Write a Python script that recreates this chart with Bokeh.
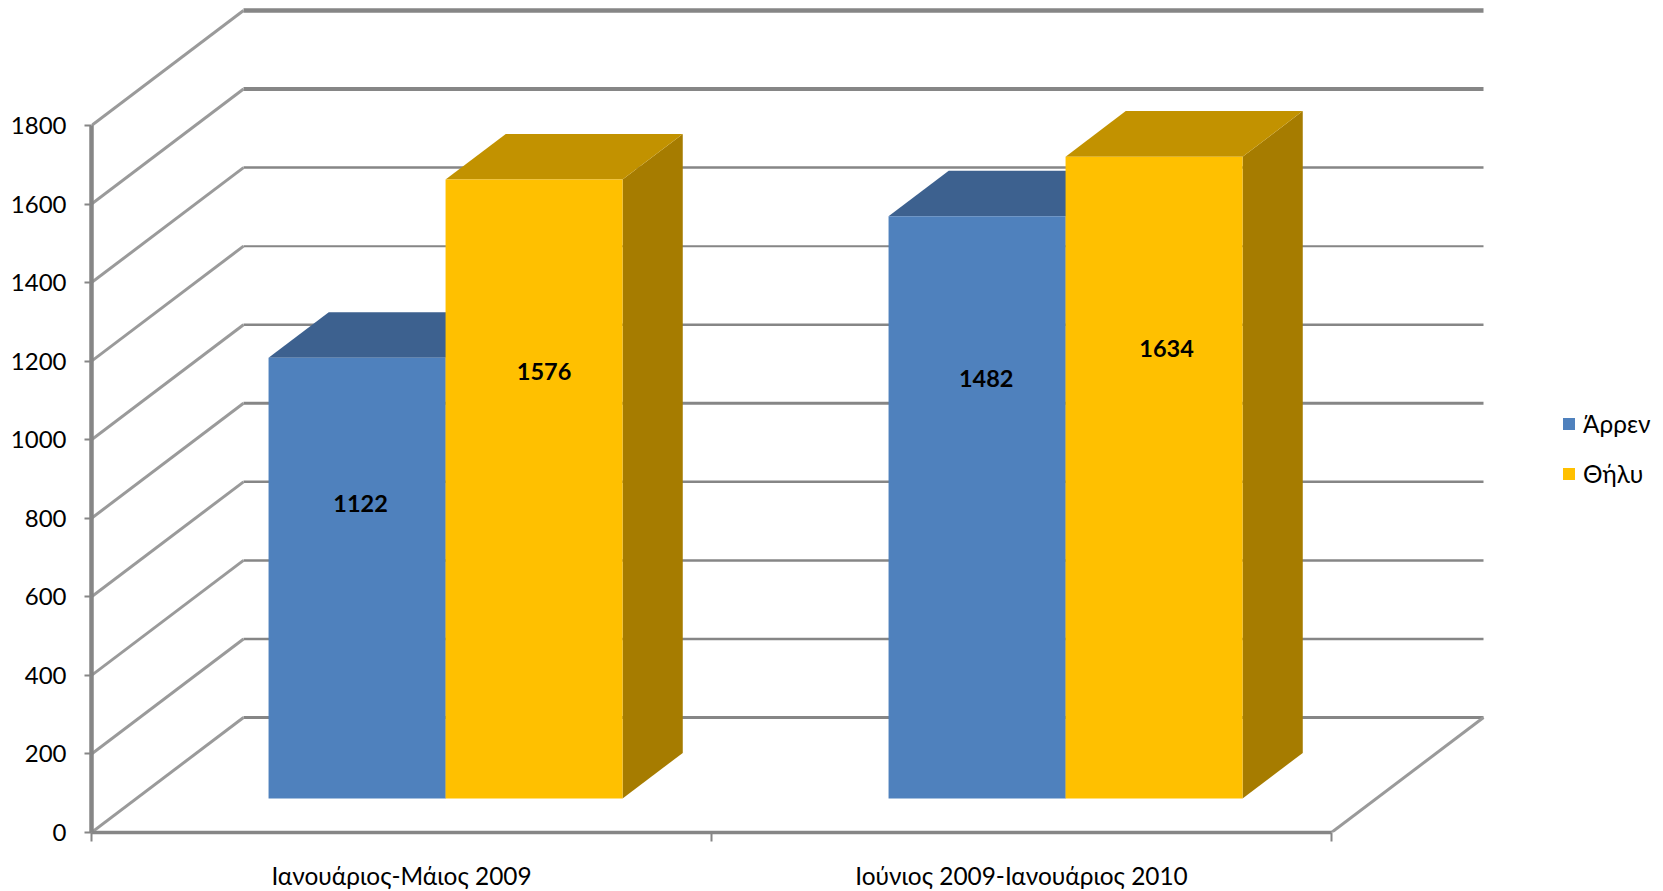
from bokeh.plotting import figure
from bokeh.models import Range1d, FixedTicker, Legend, LegendItem
from bokeh.core.properties import value
from bokeh.embed import file_html
from bokeh.resources import INLINE

# --- data ---
categories = ["Ιανουάριος-Μάιος 2009", "Ιούνιος 2009-Ιανουάριος 2010"]
male = [1122, 1482]
female = [1576, 1634]
series_names = ["Άρρεν", "Θήλυ"]
y_ticks = [0, 200, 400, 600, 800, 1000, 1200, 1400, 1600, 1800]
# where Excel's 3-D renderer left each data label (category units, value units)
label_x = [0.434, 0.730, 1.443, 1.734]
label_v = [837, 1173, 1155, 1232]

FONT = "Lato"
GREY = "#868686"

# --- oblique projection of the 3-D box ---
DEPTH_X = 152 / 620    # category units per unit of depth
DEPTH_V = 115 / 0.3928 # value units per unit of depth
def px(c, d): return c + d * DEPTH_X
def pv(v, d): return v + d * DEPTH_V

FRAME_W, FRAME_H = 1572, 832
p = figure(width=1663, height=891, output_backend="svg", toolbar_location=None,
           frame_width=FRAME_W, frame_height=FRAME_H,
           x_range=Range1d(0, FRAME_W / 620), y_range=Range1d(0, FRAME_H / 0.39278),
           min_border_left=91, min_border_right=0, min_border_top=0, min_border_bottom=59,
           outline_line_color=None, background_fill_color="white", border_fill_color="white")
p.grid.visible = False

# y axis
ya = p.yaxis[0]
ya.bounds = (0, 1800)
ya.ticker = FixedTicker(ticks=y_ticks)
ya.axis_line_color = GREY
ya.axis_line_width = 4.5
ya.major_tick_line_color = GREY
ya.major_tick_line_width = 2
ya.major_tick_out = 7
ya.major_tick_in = 0
ya.minor_tick_line_color = None
ya.major_label_standoff = 18
ya.major_label_text_font = FONT
ya.major_label_text_font_size = "24px"
ya.major_label_text_color = "black"

# x axis: boundaries as minor ticks, names centred between them
xa = p.xaxis[0]
xa.bounds = (0, 2)
xa.ticker = FixedTicker(ticks=[0.5, 1.5], minor_ticks=[0, 1, 2])
xa.major_label_overrides = {0.5: categories[0], 1.5: categories[1]}
xa.axis_line_color = GREY
xa.axis_line_width = 3.5
xa.major_tick_line_color = None
xa.major_tick_out = 0
xa.major_tick_in = 0
xa.minor_tick_line_color = GREY
xa.minor_tick_line_width = 2
xa.minor_tick_out = 9
xa.minor_tick_in = 0
xa.major_label_standoff = 19
xa.major_label_text_font = FONT
xa.major_label_text_font_size = "24.4px"
xa.major_label_text_color = "black"

# back wall gridlines
widths = [3, 2.5, 2.5, 2.5, 3, 2.5, 2, 2.5, 4, 4.5]
p.segment(x0=[px(0, 1)] * len(y_ticks), y0=[pv(v, 1) for v in y_ticks],
          x1=[px(2, 1)] * len(y_ticks), y1=[pv(v, 1) for v in y_ticks],
          line_color=GREY, line_width=widths)

# side wall lines and floor edge
p.segment(x0=[0] * len(y_ticks), y0=y_ticks,
          x1=[px(0, 1)] * len(y_ticks), y1=[pv(v, 1) for v in y_ticks],
          line_color="#9a9a9a", line_width=3)
p.segment(x0=[2], y0=[0], x1=[px(2, 1)], y1=[pv(0, 1)], line_color="#9a9a9a", line_width=3)

# bars
D0, D1 = 0.296, 0.692
LEFTS = [[0.213, 1.213], [0.4985, 1.4985]]
WIDTHS = [0.2855, 0.2855]
fills = [("#4F81BD", "#3D618F", "#2F4D72"), ("#FFC000", "#C29200", "#A67C00")]
renderers = []
for values, lefts, w, (front, top, side) in zip([male, female], LEFTS, WIDTHS, fills):
    fx, fy, tx, ty, sx, sy = [], [], [], [], [], []
    for v, l in zip(values, lefts):
        r = l + w
        fx.append([px(l, D0), px(r, D0), px(r, D0), px(l, D0)])
        fy.append([pv(0, D0), pv(0, D0), pv(v, D0), pv(v, D0)])
        tx.append([px(l, D0), px(r, D0), px(r, D1), px(l, D1)])
        ty.append([pv(v, D0), pv(v, D0), pv(v, D1), pv(v, D1)])
        sx.append([px(r, D0), px(r, D1), px(r, D1), px(r, D0)])
        sy.append([pv(0, D0), pv(0, D1), pv(v, D1), pv(v, D0)])
    p.patches(sx, sy, fill_color=side, line_color=None)
    p.patches(tx, ty, fill_color=top, line_color=None)
    renderers.append(p.patches(fx, fy, fill_color=front, line_color=None))

# data labels
p.text(x=label_x, y=label_v,
       text=[str(v) for v in [male[0], female[0], male[1], female[1]]],
       text_font=value(FONT), text_font_style="bold", text_font_size="23.5px",
       text_color="black", text_align="center", text_baseline="middle")

legend = Legend(items=[LegendItem(label=value(n), renderers=[r]) for n, r in zip(series_names, renderers)],
                location=(1470, 344), orientation="vertical",
                background_fill_alpha=0, border_line_color=None,
                padding=0, margin=0, spacing=21, glyph_width=15, glyph_height=15,
                label_height=15, label_standoff=7,
                label_text_font=FONT, label_text_font_size="24.4px", label_text_color="black")
p.add_layout(legend)

open("out.html", "w").write(file_html(p, INLINE))
